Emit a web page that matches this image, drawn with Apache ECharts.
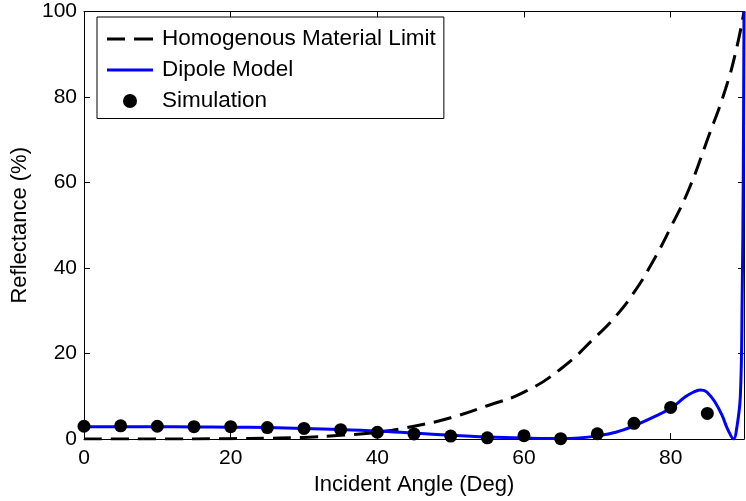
<!DOCTYPE html>
<html>
<head>
<meta charset="utf-8">
<script src="https://cdn.jsdelivr.net/npm/echarts@6/dist/echarts.min.js"></script>
<style>
  html, body { margin: 0; padding: 0; background: #fff; }
  #chart { width: 746px; height: 501px; }
</style>
</head>
<body>
<div id="chart"></div>
<script>
// Reflectance vs. incident angle: homogeneous limit, dipole model and simulation points
var homogAngle = [0, 10, 20, 25, 30, 35, 40, 45, 50, 55, 60, 65, 70, 72.5, 75, 77.5, 80, 82.5, 85, 87.5, 89, 90];
var homogRefl  = [0, 0, 0.1, 0.2, 0.4, 0.9, 1.6, 3.0, 5.0, 7.8, 11.0, 16.4, 24.3, 28.7, 34.3, 41.3, 49.5, 58.5, 70.0, 82.0, 91.5, 100];

var dipoleAngle = [0, 5, 10, 15, 20, 25, 30, 35, 40, 45, 50, 55, 60, 65, 67.5, 70, 72.5, 75, 77.5, 80, 82, 83, 84, 84.5, 85, 86, 87, 87.8, 88.6, 89, 89.5, 89.75, 89.9, 90];
var dipoleRefl  = [2.9, 2.9, 2.9, 2.85, 2.8, 2.7, 2.5, 2.25, 1.9, 1.4, 0.9, 0.5, 0.25, 0.12, 0.25, 0.75, 1.6, 3.1, 5.0, 7.2, 9.9, 10.9, 11.5, 11.4, 10.9, 8.8, 5.6, 2.2, 0, 2.5, 10, 33, 62, 100];

var simAngle = [0, 5, 10, 15, 20, 25, 30, 35, 40, 45, 50, 55, 60, 65, 70, 75, 80, 85];
var simRefl  = [3.0, 3.1, 3.0, 2.9, 2.9, 2.7, 2.5, 2.2, 1.6, 1.2, 0.7, 0.3, 0.8, 0.1, 1.25, 3.7, 7.4, 6.0];

var xTicks = { min: 0, max: 90, step: 20 };
var yTicks = { min: 0, max: 100, step: 20 };

var seriesNames = ['Homogenous Material Limit', 'Dipole Model', 'Simulation'];

function pairs(xs, ys) {
  return xs.map(function (x, i) { return [x, ys[i]]; });
}

var FONT = '"Liberation Sans", Arial, Helvetica, sans-serif';
var axisLineStyle = { color: '#000', width: 1 };

// legend glyphs: two dashes for the limit curve, a solid bar for the model
var dashIcon = 'path://M0,0H18V3H0Z M27,0H46V3H27Z';
var solidIcon = 'path://M0,0H46V3H0Z';

function frameAxis(extra) {
  var base = {
    type: 'value',
    axisLine: { show: true, onZero: false, lineStyle: axisLineStyle },
    axisTick: { show: true, inside: true, length: 6, lineStyle: { color: '#000' } },
    splitLine: { show: false },
    axisLabel: { show: false }
  };
  return Object.assign(base, extra);
}

var chart = echarts.init(document.getElementById('chart'), null, { renderer: 'canvas' });

chart.setOption({
  animation: false,
  backgroundColor: '#fff',
  grid: { left: 84, right: 2, top: 11.5, bottom: 58.3, containLabel: false },
  legend: {
    orient: 'vertical',
    left: 97,
    top: 17,
    padding: [10.5, 8, 6, 10],
    itemGap: 8,
    itemWidth: 46,
    itemHeight: 14,
    borderColor: '#000',
    borderWidth: 1,
    backgroundColor: '#fff',
    textStyle: { fontFamily: FONT, fontSize: 22.5, color: '#000', lineHeight: 22, padding: [0, 0, 0, 4] },
    data: [
      { name: seriesNames[0], icon: dashIcon },
      { name: seriesNames[1], icon: solidIcon },
      { name: seriesNames[2], icon: 'circle' }
    ]
  },
  xAxis: [
    frameAxis({
      position: 'bottom',
      min: xTicks.min, max: xTicks.max, interval: xTicks.step,
      name: 'Incident Angle (Deg)',
      nameLocation: 'middle',
      nameGap: 32,
      nameTextStyle: { fontFamily: FONT, fontSize: 22, color: '#000' },
      axisLabel: { show: true, showMaxLabel: false, margin: 9, fontFamily: FONT, fontSize: 21, color: '#000' }
    }),
    frameAxis({ position: 'top', min: xTicks.min, max: xTicks.max, interval: xTicks.step })
  ],
  yAxis: [
    frameAxis({
      position: 'left',
      min: yTicks.min, max: yTicks.max, interval: yTicks.step,
      name: 'Reflectance (%)',
      nameLocation: 'middle',
      nameGap: 51,
      nameTextStyle: { fontFamily: FONT, fontSize: 22, color: '#000' },
      axisLabel: { show: true, margin: 7, fontFamily: FONT, fontSize: 21, color: '#000' }
    }),
    frameAxis({ position: 'right', min: yTicks.min, max: yTicks.max, interval: yTicks.step })
  ],
  series: [
    {
      name: seriesNames[0],
      type: 'line',
      xAxisIndex: 0, yAxisIndex: 0,
      data: pairs(homogAngle, homogRefl),
      smooth: 0.5,
      showSymbol: false,
      symbol: 'none',
      lineStyle: { color: '#000', width: 3, type: [18, 9] },
      itemStyle: { color: '#000' },
      z: 2
    },
    {
      name: seriesNames[1],
      type: 'line',
      xAxisIndex: 0, yAxisIndex: 0,
      data: pairs(dipoleAngle, dipoleRefl),
      smooth: 0.4,
      showSymbol: false,
      symbol: 'none',
      lineStyle: { color: '#0000ff', width: 3 },
      itemStyle: { color: '#0000ff' },
      z: 3
    },
    {
      name: seriesNames[2],
      type: 'scatter',
      xAxisIndex: 0, yAxisIndex: 0,
      data: pairs(simAngle, simRefl),
      symbol: 'circle',
      symbolSize: 13,
      itemStyle: { color: '#000', opacity: 1 },
      z: 4
    }
  ]
});
</script>
</body>
</html>
